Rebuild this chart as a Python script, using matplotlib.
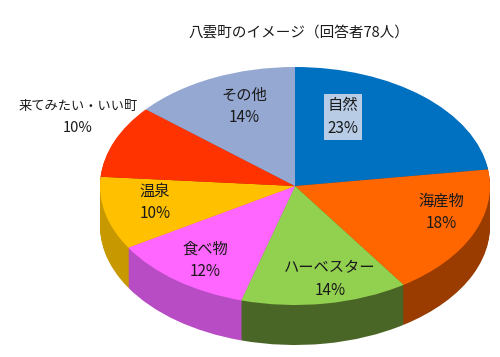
import matplotlib
matplotlib.use("Agg")
import matplotlib.pyplot as plt

plt.rcParams["font.family"] = ["Noto Sans CJK JP", "DejaVu Sans"]

# データ（時計回り、12時から）
CATEGORIES = ["自然", "海産物", "ハーベスター", "食べ物", "温泉", "来てみたい・いい町", "その他"]
PERCENTS = [23, 18, 14, 12, 10, 10, 14]
TITLE = "八雲町のイメージ（回答者78人）"

TOP_COLORS = ["#0070C0", "#FF6600", "#92D050", "#FF66FF", "#FFC000", "#FF3300", "#95A8D2"]
SIDE_COLORS = ["#004A80", "#9A3C00", "#4A6626", "#B84CC4", "#C89800", "#A02000", "#5A6A90"]

# ラベル位置（ピクセル）
LABEL_POS = [(343, 117), (441, 212), (330, 279), (205, 260), (155, 202), (78, 117), (244, 106)]

W, H = 500, 357
CX, CY, RX, RY, DEPTH = 295, 186, 195, 119, 40

fig = plt.figure(figsize=(W / 100, H / 100), dpi=100)
ax = fig.add_axes([0, 0, 1, 1])

# 側面: 下方向にずらした円を重ねて厚みを出す
n_layers = 40
dy = DEPTH / RY
for k in range(n_layers, 0, -1):
    ax.pie(PERCENTS, startangle=90, counterclock=False, colors=SIDE_COLORS,
           center=(0, -dy * k / n_layers), radius=1,
           wedgeprops=dict(linewidth=0))
# 上面
ax.pie(PERCENTS, startangle=90, counterclock=False, colors=TOP_COLORS,
       center=(0, 0), radius=1, wedgeprops=dict(linewidth=0))

ax.set_aspect("auto")
ax.set_xlim((0 - CX) / RX, (W - CX) / RX)
ax.set_ylim((CY - H) / RY, CY / RY)
ax.axis("off")

fig.text(299 / W, 1 - 33 / H, TITLE, ha="center", va="center",
         fontsize=10.5, color="#1a1a1a")

for i, (name, pct) in enumerate(zip(CATEGORIES, PERCENTS)):
    px, py = LABEL_POS[i]
    small = len(name) > 6
    kw = dict(ha="center", va="center", color="#1a1a1a", linespacing=1.4)
    if small:
        fig.text(px / W, 1 - 106 / H, name, fontsize=9.5, **kw)
        fig.text(px / W, 1 - 128 / H, f"{pct}%", fontsize=10.5, **kw)
        continue
    if i == 0:
        kw["bbox"] = dict(boxstyle="square,pad=0.25", facecolor="#B9CCE6",
                          edgecolor="none")
    fig.text(px / W, 1 - py / H, f"{name}\n{pct}%", fontsize=11, **kw)

fig.savefig("out.png", dpi=100)
